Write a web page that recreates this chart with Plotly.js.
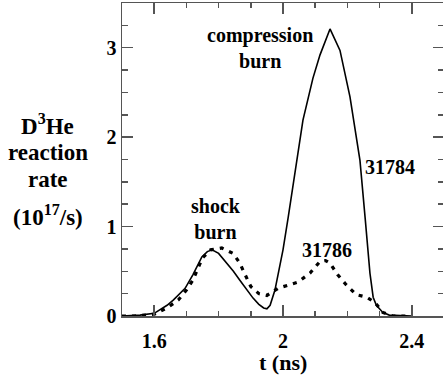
<!DOCTYPE html>
<html>
<head>
<meta charset="utf-8">
<script src="https://cdn.plot.ly/plotly-3.0.1.min.js"></script>
<style>html,body{margin:0;padding:0;overflow:hidden;background:#fff;}#chart{width:446px;height:382px;}</style>
</head>
<body>
<div id="chart"></div>
<script>
// Shot 31784 (solid): time (ns) and D3He reaction rate (1e17/s)
const t31784 = [1.50, 1.556, 1.60, 1.618, 1.64, 1.66, 1.68, 1.696, 1.72, 1.748, 1.765, 1.78, 1.80, 1.826, 1.846, 1.866, 1.886, 1.907, 1.925, 1.94, 1.95, 1.96, 1.975, 1.99, 2.0, 2.016, 2.034, 2.062, 2.093, 2.115, 2.146, 2.177, 2.208, 2.239, 2.255, 2.27, 2.28, 2.29, 2.31, 2.33, 2.40];
const r31784 = [0.0, 0.01, 0.03, 0.07, 0.12, 0.18, 0.25, 0.31, 0.46, 0.66, 0.72, 0.74, 0.70, 0.59, 0.50, 0.40, 0.30, 0.20, 0.13, 0.09, 0.08, 0.12, 0.29, 0.55, 0.74, 1.10, 1.52, 2.19, 2.66, 2.92, 3.21, 2.97, 2.45, 1.74, 1.10, 0.48, 0.21, 0.12, 0.04, 0.01, 0.0];
// Shot 31786 (dotted)
const t31786 = [1.50, 1.54, 1.60, 1.64, 1.675, 1.70, 1.72, 1.75, 1.775, 1.81, 1.845, 1.866, 1.88, 1.90, 1.925, 1.95, 1.985, 2.015, 2.047, 2.084, 2.115, 2.132, 2.146, 2.17, 2.196, 2.227, 2.26, 2.286, 2.31, 2.34, 2.40];
const r31786 = [0.0, 0.0, 0.02, 0.09, 0.18, 0.29, 0.40, 0.65, 0.74, 0.76, 0.70, 0.59, 0.48, 0.33, 0.25, 0.23, 0.31, 0.34, 0.38, 0.48, 0.61, 0.62, 0.59, 0.46, 0.35, 0.24, 0.21, 0.15, 0.04, 0.0, 0.0];

const xTickVals = [1.6, 2, 2.4];
const xTickText = ['1.6', '2', '2.4'];
const yTickVals = [0, 1, 2, 3];
const yTickText = ['0', '1', '2', '3'];

const FONT = "'Liberation Serif', 'Times New Roman', Times, serif";
const AX = '#555';

const traces = [
  {x: t31784, y: r31784, mode: 'lines', line: {color: '#000', width: 1.6}, hoverinfo: 'skip'},
  {x: t31786, y: r31786, mode: 'lines', line: {color: '#000', width: 3.2, dash: '4px,6px'}, hoverinfo: 'skip'}
];

const tickCommon = {
  showgrid: false, zeroline: false, showline: true, linecolor: AX, linewidth: 1.5,
  mirror: 'ticks',
  ticks: 'inside', ticklen: 11, tickwidth: 1.5, tickcolor: AX
};

const layout = {
  width: 446, height: 382,
  margin: {l: 122, r: 2, t: 3, b: 66},
  paper_bgcolor: '#fff', plot_bgcolor: '#fff',
  showlegend: false,
  font: {family: FONT, size: 20, color: '#000', weight: 'bold'},
  xaxis: Object.assign({}, tickCommon, {
    range: [1.5, 2.5],
    tickvals: xTickVals, ticktext: xTickText, ticklabelstandoff: 6,
    tickfont: {family: FONT, size: 20, weight: 'bold', color: '#000'},
    minor: {dtick: 0.1, tick0: 1.5, ticks: 'inside', ticklen: 5, tickwidth: 1.5, tickcolor: AX, showgrid: false}
  }),
  yaxis: Object.assign({}, tickCommon, {
    range: [0, 3.5],
    tickvals: yTickVals, ticktext: yTickText, ticklabelstandoff: 0,
    tickfont: {family: FONT, size: 20, weight: 'bold', color: '#000'},
    minor: {dtick: 0.25, tick0: 0, ticks: 'inside', ticklen: 6, tickwidth: 1.5, tickcolor: AX, showgrid: false}
  }),
  annotations: [
    {xref: 'paper', yref: 'paper', x: 0.5, y: -0.15, text: 't (ns)', showarrow: false, xanchor: 'center', yanchor: 'middle', font: {family: FONT, size: 22, weight: 'bold'}},
    {xref: 'paper', yref: 'paper', x: -0.231, y: (316 - 125) / 313, text: 'D<sup>3</sup>He', showarrow: false, xanchor: 'center', yanchor: 'middle', font: {family: FONT, size: 23, weight: 'bold'}},
    {xref: 'paper', yref: 'paper', x: -0.231, y: (316 - 152) / 313, text: 'reaction', showarrow: false, xanchor: 'center', yanchor: 'middle', font: {family: FONT, size: 23, weight: 'bold'}},
    {xref: 'paper', yref: 'paper', x: -0.231, y: (316 - 179) / 313, text: 'rate', showarrow: false, xanchor: 'center', yanchor: 'middle', font: {family: FONT, size: 23, weight: 'bold'}},
    {xref: 'paper', yref: 'paper', x: -0.231, y: (316 - 215) / 313, text: '(10<sup>17</sup>/s)', showarrow: false, xanchor: 'center', yanchor: 'middle', font: {family: FONT, size: 23, weight: 'bold'}},
    {x: 1.93, y: 3.0, text: 'compression<br>burn', showarrow: false, xanchor: 'center', yanchor: 'middle', font: {family: FONT, size: 20, weight: 'bold'}},
    {x: 1.792, y: 1.09, text: 'shock<br>burn', showarrow: false, xanchor: 'center', yanchor: 'middle', font: {family: FONT, size: 20, weight: 'bold'}},
    {x: 2.332, y: 1.67, text: '31784', showarrow: false, xanchor: 'center', yanchor: 'middle', font: {family: FONT, size: 20, weight: 'bold'}},
    {x: 2.137, y: 0.74, text: '31786', showarrow: false, xanchor: 'center', yanchor: 'middle', font: {family: FONT, size: 20, weight: 'bold'}}
  ]
};

Plotly.newPlot('chart', traces, layout, {staticPlot: true, displayModeBar: false});
</script>
</body>
</html>
